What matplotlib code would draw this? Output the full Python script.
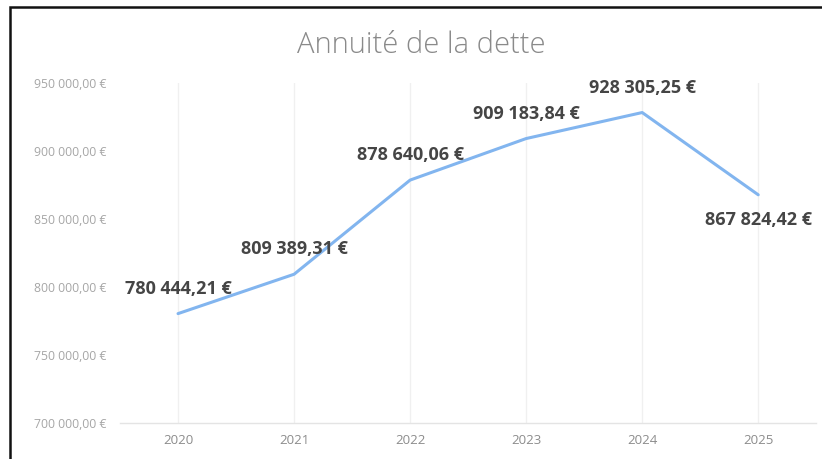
import numpy as np
import matplotlib.pyplot as plt
from matplotlib.patches import Rectangle

# Data
years = ['2020', '2021', '2022', '2023', '2024', '2025']
annuite = [780444.21, 809389.31, 878640.06, 909183.84, 928305.25, 867824.42]
label_below = [False, False, False, False, False, True]
yticks = [700000, 750000, 800000, 850000, 900000, 950000]


def fmt_eur(v):
    s = f'{v:,.2f}'
    s = s.replace(',', ' ').replace('.', ',')
    return s + ' €'


plt.rcParams['font.family'] = ['Open Sans', 'DejaVu Sans']

fig = plt.figure(figsize=(8.22, 4.59), dpi=100)
ax = fig.add_axes([0.146, 0.0784, 0.847, 0.7407])

x = np.arange(len(years))
ax.plot(x, annuite, color='#82b5ef', linewidth=2.2, solid_capstyle='round')

# data labels, above the point except the last one
for xi, v, below in zip(x, annuite, label_below):
    off = -18 if below else 18
    ax.annotate(fmt_eur(v), (xi, v), xytext=(0, off), textcoords='offset points',
                ha='center', va='center', fontsize=13, fontweight='bold',
                color='#454545', annotation_clip=False)

ax.set_xlim(-0.5, len(years) - 0.5)
ax.set_ylim(700000, 950000)
ax.set_xticks(x)
ax.set_xticklabels(years)
ax.set_yticks(yticks)
ax.set_yticklabels([fmt_eur(t) for t in yticks])

ax.tick_params(axis='y', length=0, labelsize=8.8, labelcolor='#a6a6a6', pad=10)
ax.tick_params(axis='x', length=0, labelsize=9.5, labelcolor='#8c8c8c', pad=8)

for s in ['top', 'right', 'left']:
    ax.spines[s].set_visible(False)
ax.spines['bottom'].set_color('#e4e4e4')
ax.spines['bottom'].set_linewidth(1.0)

ax.grid(True, axis='x', color='#f0f0f0', linewidth=1.0)
ax.grid(False, axis='y')
ax.set_axisbelow(True)

fig.text(0.512, 0.902, 'Annuité de la dette', ha='center', va='center',
         fontsize=21, color='#8a8a8a', fontweight='light')

# chart border (cropped at right and bottom)
fig.patches.append(Rectangle((0.012, -0.05), 1.1, 1.035, transform=fig.transFigure,
                             fill=False, edgecolor='#111111', linewidth=1.8))

fig.savefig('out.png', dpi=100)
